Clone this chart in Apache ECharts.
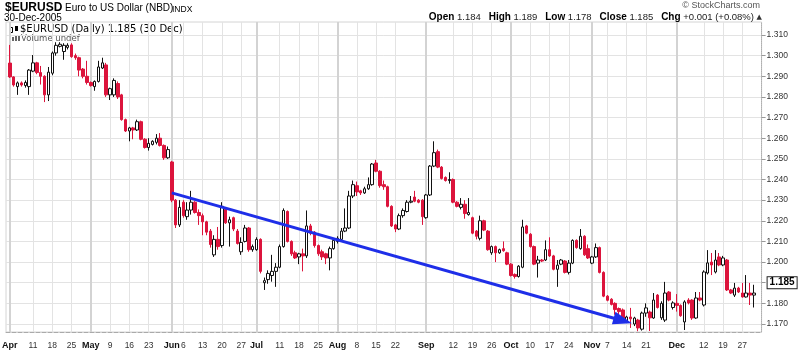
<!DOCTYPE html>
<html><head><meta charset="utf-8">
<script src="https://cdn.jsdelivr.net/npm/echarts/dist/echarts.min.js"></script>
<style>html,body{margin:0;padding:0;background:#fff}#c{width:800px;height:356px}</style>
</head><body><div id="c"></div>
<script>
// ---- trading days (categories) ----
const monthNames = ['Apr','May','Jun','Jul','Aug','Sep','Oct','Nov','Dec'];
const aprDays = [1,4,5,6,7,8,11,12,13,14,15,18,19,20,21,22,25,26,27,28,29];
const mayDays = [2,3,4,5,6,9,10,11,12,13,16,17,18,19,20,23,24,25,26,27,31];
const junDays = [1,2,3,6,7,8,9,10,13,14,15,16,17,20,21,22,23,24,27,28,29,30];
const julDays = [1,4,5,6,7,8,11,12,13,14,15,18,19,20,21,22,25,26,27,28,29];
const augDays = [1,2,3,4,5,8,9,10,11,12,15,16,17,18,19,22,23,24,25,26,29,30,31];
const sepDays = [1,2,5,6,7,8,9,12,13,14,15,16,19,20,21,22,23,26,27,28,29,30];
const octDays = [3,4,5,6,7,10,11,12,13,14,17,18,19,20,21,24,25,26,27,28,31];
const novDays = [1,2,3,4,7,8,9,10,11,14,15,16,17,18,21,22,23,24,25,28,29,30];
const decDays = [1,2,5,6,7,8,9,12,13,14,15,16,19,20,21,22,23,27,28,29,30];

// ---- tick labels ----
const monthTicks = ['Apr 1','May 2','Jun 1','Jul 1','Aug 1','Sep 1','Oct 3','Nov 1','Dec 1'];
const weekTicks = ['Apr 11','Apr 18','Apr 25','May 9','May 16','May 23','Jun 6','Jun 13','Jun 20','Jun 27',
  'Jul 11','Jul 18','Jul 25','Aug 8','Aug 15','Aug 22','Sep 12','Sep 19','Sep 26','Oct 10','Oct 17','Oct 24',
  'Nov 7','Nov 14','Nov 21','Dec 12','Dec 19','Dec 27'];
const priceTicks = [1.17, 1.31, 0.01]; // min, max, step of the price scale labels

// ---- OHLC values ----
const opens = [
 1.2964,1.2897,1.2850,1.2868,1.2855,1.2850,1.2925,1.2965,1.2918,1.2900,1.2810,1.2915,1.3013,1.3045,1.3020,1.3040,1.3052,1.3000,1.2990,1.2935,1.2900,
 1.2870,1.2850,1.2875,1.2940,1.2955,1.2810,1.2810,1.2865,1.2810,1.2690,1.2635,1.2650,1.2640,1.2680,1.2595,1.2555,1.2570,1.2580,1.2600,1.2565,1.2505,
 1.2485,1.2300,1.2180,1.2290,1.2220,1.2252,1.2290,1.2240,1.2225,1.2195,1.2150,1.2035,1.2110,1.2080,1.2255,1.2190,1.2215,1.2150,1.2050,1.2100,1.2165,1.2060,
 1.2060,1.2110,1.1900,1.1915,1.1935,1.1955,1.1975,1.2075,1.2245,1.2100,1.2045,1.2025,1.2040,1.2030,1.2175,1.2145,1.2080,1.2050,1.2040,1.2020,1.2065,
 1.2100,1.2110,1.2150,1.2165,1.2320,1.2370,1.2345,1.2335,1.2355,1.2375,1.2480,1.2440,1.2375,1.2365,1.2270,1.2180,1.2160,1.2225,1.2245,1.2290,1.2315,1.2300,1.2300,
 1.2215,1.2325,1.2465,1.2535,1.2460,1.2410,1.2395,1.2400,1.2290,1.2265,1.2280,1.2230,1.2215,1.2150,1.2115,1.2200,1.2150,1.2045,1.2075,1.2045,1.2065,1.2045,
 1.1990,1.1940,1.1930,1.1975,1.2175,1.2135,1.2075,1.1995,1.2010,1.2010,1.2060,1.2030,1.1965,1.1990,1.2005,1.1950,1.1995,1.2105,1.2065,1.2125,1.2065,
 1.1995,1.2025,1.2070,1.1950,1.1835,1.1820,1.1800,1.1775,1.1768,1.1715,1.1734,1.1700,1.1719,1.1675,1.1753,1.1758,1.1729,1.1840,1.1730,1.1719,1.1855,1.1780,
 1.1800,1.1790,1.1710,1.1816,1.1816,1.1729,1.1826,1.1792,1.1947,1.2000,1.1952,1.2025,1.1986,1.2010,1.1865,1.1840,1.1874,1.1850,1.1831,1.1850,1.1840
];
const highs = [
 1.3052,1.2900,1.2875,1.2875,1.2880,1.2935,1.3003,1.2970,1.2950,1.2905,1.2945,1.3020,1.3065,1.3065,1.3060,1.3060,1.3060,1.3010,1.2995,1.2940,1.2975,
 1.2875,1.2880,1.2975,1.2990,1.2965,1.2845,1.2890,1.2875,1.2815,1.2695,1.2655,1.2655,1.2690,1.2685,1.2600,1.2600,1.2590,1.2620,1.2625,1.2570,1.2560,
 1.2490,1.2305,1.2300,1.2300,1.2290,1.2345,1.2295,1.2255,1.2235,1.2200,1.2160,1.2130,1.2170,1.2290,1.2260,1.2220,1.2220,1.2160,1.2120,1.2180,1.2170,1.2085,
 1.2120,1.2115,1.1925,1.1960,1.2035,1.1995,1.2085,1.2260,1.2250,1.2105,1.2055,1.2045,1.2065,1.2250,1.2185,1.2150,1.2085,1.2060,1.2045,1.2075,1.2115,
 1.2125,1.2165,1.2260,1.2345,1.2395,1.2390,1.2350,1.2365,1.2410,1.2480,1.2495,1.2445,1.2395,1.2370,1.2275,1.2185,1.2235,1.2260,1.2300,1.2320,1.2345,1.2305,1.2305,
 1.2330,1.2470,1.2585,1.2545,1.2465,1.2415,1.2435,1.2405,1.2295,1.2310,1.2300,1.2310,1.2220,1.2155,1.2225,1.2205,1.2155,1.2080,1.2080,1.2065,1.2100,1.2050,
 1.1995,1.1945,1.1985,1.2205,1.2180,1.2140,1.2080,1.2030,1.2015,1.2105,1.2120,1.2035,1.2010,1.2015,1.2010,1.2010,1.2110,1.2110,1.2160,1.2130,1.2085,
 1.2030,1.2090,1.2075,1.1955,1.1840,1.1825,1.1805,1.1780,1.1775,1.1740,1.1778,1.1735,1.1725,1.1760,1.1800,1.1765,1.1850,1.1845,1.1810,1.1904,1.1860,1.1810,
 1.1845,1.1795,1.1815,1.1825,1.1820,1.1855,1.1855,1.1960,1.2058,1.2044,1.2058,1.2044,1.2030,1.2015,1.1870,1.1899,1.1880,1.1899,1.1937,1.1899,1.1890
];
const lows = [
 1.2892,1.2850,1.2810,1.2850,1.2845,1.2810,1.2920,1.2910,1.2860,1.2775,1.2780,1.2905,1.3000,1.3040,1.2980,1.3030,1.2990,1.2980,1.2900,1.2890,1.2860,
 1.2850,1.2830,1.2870,1.2935,1.2800,1.2785,1.2800,1.2790,1.2685,1.2630,1.2585,1.2595,1.2635,1.2590,1.2550,1.2540,1.2565,1.2570,1.2560,1.2495,1.2500,
 1.2290,1.2165,1.2170,1.2215,1.2205,1.2230,1.2235,1.2180,1.2130,1.2130,1.2070,1.2025,1.2060,1.2070,1.2185,1.2075,1.2150,1.2085,1.2035,1.2095,1.2050,1.2050,
 1.2055,1.1945,1.1865,1.1895,1.1905,1.1880,1.1970,1.2070,1.2095,1.2030,1.2015,1.1990,1.1955,1.2020,1.2130,1.2070,1.2030,1.2010,1.1990,1.1960,1.2060,
 1.2090,1.2105,1.2145,1.2160,1.2310,1.2320,1.2325,1.2330,1.2350,1.2370,1.2435,1.2360,1.2350,1.2265,1.2170,1.2145,1.2155,1.2215,1.2240,1.2285,1.2290,1.2285,1.2180,
 1.2210,1.2320,1.2460,1.2455,1.2400,1.2390,1.2380,1.2285,1.2265,1.2255,1.2210,1.2225,1.2135,1.2110,1.2105,1.2150,1.2055,1.2035,1.2000,1.2040,1.2050,1.1985,
 1.1930,1.1920,1.1925,1.1970,1.2135,1.2070,1.1985,1.1925,1.2000,1.2005,1.2025,1.1960,1.1880,1.1985,1.1945,1.1940,1.1990,1.2065,1.2060,1.2030,1.2015,
 1.1990,1.2020,1.1945,1.1830,1.1810,1.1790,1.1745,1.1740,1.1720,1.1705,1.1681,1.1690,1.1665,1.1668,1.1735,1.1666,1.1725,1.1775,1.1720,1.1710,1.1810,1.1770,
 1.1760,1.1735,1.1671,1.1795,1.1720,1.1725,1.1810,1.1785,1.1940,1.1937,1.1945,1.1980,1.1980,1.1860,1.1845,1.1831,1.1850,1.1828,1.1828,1.1792,1.1780
];
const closes = [
 1.2897,1.2858,1.2868,1.2858,1.2870,1.2930,1.2965,1.2918,1.2900,1.2810,1.2920,1.3013,1.3050,1.3055,1.3050,1.3050,1.2995,1.2990,1.2930,1.2900,1.2870,
 1.2855,1.2875,1.2945,1.2965,1.2810,1.2840,1.2880,1.2800,1.2690,1.2635,1.2650,1.2640,1.2680,1.2595,1.2555,1.2575,1.2585,1.2600,1.2565,1.2505,1.2545,
 1.2300,1.2180,1.2265,1.2225,1.2252,1.2290,1.2240,1.2225,1.2195,1.2145,1.2085,1.2110,1.2075,1.2270,1.2190,1.2205,1.2160,1.2090,1.2095,1.2165,1.2060,1.2075,
 1.2110,1.1955,1.1910,1.1945,1.1955,1.1975,1.2075,1.2250,1.2100,1.2040,1.2020,1.2040,1.2030,1.2175,1.2140,1.2080,1.2040,1.2025,1.2020,1.2065,1.2105,
 1.2115,1.2150,1.2165,1.2320,1.2375,1.2340,1.2335,1.2355,1.2375,1.2475,1.2440,1.2370,1.2365,1.2270,1.2175,1.2160,1.2225,1.2250,1.2290,1.2295,1.2295,1.2290,1.2220,
 1.2325,1.2465,1.2530,1.2460,1.2405,1.2395,1.2400,1.2290,1.2270,1.2280,1.2235,1.2240,1.2140,1.2125,1.2200,1.2155,1.2060,1.2075,1.2045,1.2060,1.2055,1.1990,
 1.1935,1.1930,1.1980,1.2170,1.2140,1.2075,1.1990,1.2010,1.2005,1.2060,1.2030,1.1965,1.1985,1.2010,1.1950,1.1995,1.2105,1.2070,1.2125,1.2035,1.2020,
 1.2025,1.2070,1.1950,1.1835,1.1815,1.1795,1.1770,1.1760,1.1729,1.1734,1.1725,1.1729,1.1681,1.1753,1.1778,1.1730,1.1816,1.1780,1.1800,1.1850,1.1816,1.1802,
 1.1790,1.1740,1.1807,1.1802,1.1729,1.1826,1.1816,1.1952,1.1996,1.1986,1.2010,1.1986,1.2020,1.1865,1.1850,1.1874,1.1855,1.1831,1.1850,1.1840,1.1850
];

// ---- annotation: trend line endpoints (date, price) ----
const trendStart = ['Jun 1', 1.2335];
const trendEnd = ['Nov 11', 1.1716];

// ---- build ----
const allDays = [aprDays, mayDays, junDays, julDays, augDays, sepDays, octDays, novDays, decDays];
const dates = [];
allDays.forEach((arr, j) => arr.forEach(d => dates.push(monthNames[j] + ' ' + d)));
const categories = ['pad0'].concat(dates, ['pad1', 'pad2']);
const candles = dates.map((d, i) => [opens[i], closes[i], lows[i], highs[i]]);
const seriesData = ['-'].concat(candles, ['-', '-']);
const monthSet = new Set(monthTicks), weekSet = new Set(weekTicks);
const n = dates.length;
const lastO = opens[n-1], lastH = highs[n-1], lastL = lows[n-1], lastC = closes[n-1];
const chg = lastC - closes[n-2];
const pct = chg / closes[n-2] * 100;
const sgn = v => (v >= 0 ? '+' : '-');

// price scale: labels grid has 1.17 at y=324 and 1.31 at y=35
const pxPerUnit = (324 - 35) / (priceTicks[1] - priceTicks[0]);
const yMax = priceTicks[1] + (35 - 22) / pxPerUnit;
const yMin = priceTicks[0] - (332 - 324) / pxPerUnit;

const FONT = 'Liberation Sans, Arial, sans-serif';
const RED = '#dc143c';
const chart = echarts.init(document.getElementById('c'), null, {renderer: 'canvas'});
const gridL = 6, gridW = 755.6;
chart.setOption({
  animation: false,
  backgroundColor: '#fff',
  grid: [
    {left: gridL, width: gridW, top: 22, height: 310, show: true, borderColor: '#d4d4d4', borderWidth: 1, backgroundColor: 'transparent', containLabel: false, outerBoundsMode: 'none'},
    {left: gridL, width: gridW, top: 35, height: 289, show: false, containLabel: false, outerBoundsMode: 'none'}
  ],
  xAxis: [
    {type: 'category', gridIndex: 0, data: categories, boundaryGap: false,
     axisLine: {show: true, lineStyle: {color: '#aaaaaa', type: 'dashed', width: 1}},
     axisTick: {show: false},
     axisLabel: {
       interval: (i, v) => monthSet.has(v) || weekSet.has(v),
       formatter: v => monthSet.has(v) ? '{m|' + v.split(' ')[0] + '}' : '{d|' + v.split(' ')[1] + '}',
       margin: 9, hideOverlap: false,
       rich: {
         m: {fontFamily: FONT, fontSize: 9, fontWeight: 'bold', color: '#111'},
         d: {fontFamily: FONT, fontSize: 8.5, color: '#333'}
       }
     },
     splitLine: {show: true, interval: (i, v) => weekSet.has(v), lineStyle: {color: '#e3e3e3', width: 1}}
    },
    {type: 'category', gridIndex: 0, data: categories, boundaryGap: false,
     axisLine: {show: false}, axisTick: {show: false}, axisLabel: {show: false},
     splitLine: {show: true, interval: (i, v) => monthSet.has(v), lineStyle: {color: '#d3d3d3', width: 2}}
    },
    {type: 'category', gridIndex: 1, data: categories, boundaryGap: false,
     axisLine: {show: false}, axisTick: {show: false}, axisLabel: {show: false}, splitLine: {show: false}}
  ],
  yAxis: [
    {type: 'value', gridIndex: 0, min: yMin, max: yMax, position: 'right',
     axisLine: {show: true, lineStyle: {color: '#b0b0b0', type: 'dotted'}},
     axisTick: {show: false}, axisLabel: {show: false}, splitLine: {show: false}},
    {type: 'value', gridIndex: 1, min: priceTicks[0], max: priceTicks[1], interval: priceTicks[2], position: 'right',
     axisLine: {show: false},
     axisTick: {show: true, length: 4, lineStyle: {color: '#999'}},
     axisLabel: {fontFamily: FONT, fontSize: 8.5, color: '#333', margin: 5, formatter: v => v.toFixed(3)},
     splitLine: {show: true, lineStyle: {color: '#e3e3e3', width: 1}}}
  ],
  series: [{
    type: 'candlestick', xAxisIndex: 0, yAxisIndex: 0,
    data: seriesData, barWidth: 3,
    itemStyle: {color: '#ffffff', color0: RED, borderColor: '#111111', borderColor0: RED, borderWidth: 1},
    emphasis: {disabled: true},
    markLine: {
      silent: true, animation: false,
      lineStyle: {color: '#1e2ee8', width: 3, type: 'solid', opacity: 1},
      label: {show: false},
      data: [
        [{coord: [trendStart[0], trendStart[1]], symbol: 'none'},
         {coord: [trendEnd[0], trendEnd[1]], symbol: 'triangle', symbolSize: [13, 19]}],
        {yAxis: lastC, symbol: 'none', lineStyle: {color: 'rgba(0,0,0,0)', width: 1, opacity: 1},
         label: {show: true, position: 'end', distance: 6, formatter: lastC.toFixed(3), opacity: 1,
                 fontFamily: FONT, fontSize: 10, fontWeight: 'bold', color: '#000',
                 backgroundColor: '#fff', borderColor: '#222', borderWidth: 1, padding: [1, 2, 0, 2]}}
      ]
    }
  }],
  graphic: [
    {type: 'text', left: 5, top: 2, style: {text: '$EURUSD', fontFamily: FONT, fontSize: 12, fontWeight: 'bold', fill: '#000'}},
    {type: 'text', left: 65, top: 3, style: {text: 'Euro to US Dollar (NBD)', fontFamily: FONT, fontSize: 10, fill: '#000'}},
    {type: 'text', left: 172, top: 5, style: {text: 'INDX', fontFamily: FONT, fontSize: 8.5, fill: '#000'}},
    {type: 'text', left: 4, top: 13, style: {text: '30-Dec-2005', fontFamily: FONT, fontSize: 10, fill: '#000'}},
    {type: 'text', right: 40, top: 1, style: {text: '\u00a9 StockCharts.com', fontFamily: FONT, fontSize: 9, fill: '#555'}},
    {type: 'text', right: 38, top: 12, style: {
      text: '{b|Open} ' + lastO.toFixed(3) + '   {b|High} ' + lastH.toFixed(3) + '   {b|Low} ' + lastL.toFixed(3) +
            '   {b|Close} ' + lastC.toFixed(3) + '   {b|Chg} ' + sgn(chg) + Math.abs(chg).toFixed(3) +
            ' (' + sgn(pct) + Math.abs(pct).toFixed(2) + '%) {t|\u25b2}',
      fontFamily: FONT, fontSize: 9.5, fill: '#222',
      rich: {b: {fontFamily: FONT, fontSize: 10, fontWeight: 'bold', fill: '#000'},
             t: {fontFamily: 'DejaVu Sans', fontSize: 7, fill: '#333'}}
    }},
    // legend glyphs
    {type: 'rect', shape: {x: 10.5, y: 27.5, width: 2, height: 5}, style: {fill: '#fff', stroke: '#000', lineWidth: 1}},
    {type: 'rect', shape: {x: 15, y: 26, width: 3, height: 5}, style: {fill: '#000'}},
    {type: 'text', left: 20, top: 24, style: {text: '$EURUSD (Daily) ' + lastC.toFixed(3) + ' (30 Dec)', fontFamily: 'DejaVu Sans', fontSize: 10, fill: '#000'}},
    {type: 'rect', shape: {x: 12, y: 37, width: 2, height: 4}, style: {fill: '#666'}},
    {type: 'rect', shape: {x: 15, y: 35, width: 2, height: 6}, style: {fill: '#666'}},
    {type: 'rect', shape: {x: 18, y: 36, width: 2, height: 5}, style: {fill: '#666'}},
    {type: 'text', left: 21, top: 34, style: {text: 'Volume undef', fontFamily: 'DejaVu Sans', fontSize: 8.5, fill: '#555'}}
  ]
});
</script></body></html>
